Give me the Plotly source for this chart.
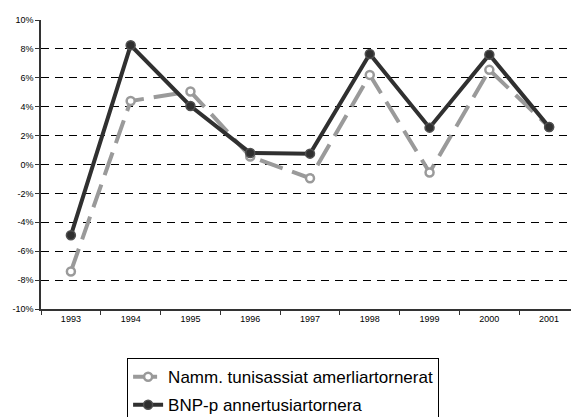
import plotly.graph_objects as go

years = ["1993", "1994", "1995", "1996", "1997", "1998", "1999", "2000", "2001"]
namm_values = [-7.4, 4.4, 5.05, 0.55, -0.95, 6.2, -0.55, 6.55, 2.6]
bnp_values = [-4.9, 8.25, 4.05, 0.8, 0.75, 7.65, 2.55, 7.6, 2.6]
y_ticks = [-10, -8, -6, -4, -2, 0, 2, 4, 6, 8, 10]
grid_ticks = [-8, -6, -4, -2, 0, 2, 4, 6, 8]

fig = go.Figure()
fig.add_trace(
    go.Scatter(
        x=years, y=namm_values, name="Namm. tunisassiat amerliartornerat",
        mode="lines+markers", legendgroup="a",
        line=dict(color="#9a9a9a", width=4, dash="24px,10px"),
        marker=dict(symbol="circle", size=8, color="white", line=dict(color="#9a9a9a", width=2.5)),
    )
)
fig.add_trace(
    go.Scatter(
        x=years, y=bnp_values, name="BNP-p annertusiartornera",
        mode="lines+markers", legendgroup="b",
        line=dict(color="#303030", width=4),
        marker=dict(symbol="circle", size=9, color="#303030", line=dict(color="#505050", width=1.5)),
    )
)
# invisible trace on the overlay axis so the dashed gridlines get drawn
fig.add_trace(
    go.Scatter(x=years, y=bnp_values, yaxis="y2", showlegend=False,
               mode="markers", marker=dict(opacity=0), hoverinfo="skip")
)

# page body has an 8px margin, so the figure is 8px smaller and shifted
fig.update_layout(
    width=571, height=409,
    margin=dict(l=33, r=0, t=12, b=108, autoexpand=False),
    paper_bgcolor="white", plot_bgcolor="white",
    font=dict(family="Liberation Sans, Arial, sans-serif", color="black"),
    xaxis=dict(
        type="category", tickson="boundaries", ticks="outside", ticklen=4,
        tickcolor="#333", showline=True, linecolor="#333", linewidth=1.5,
        showgrid=False, tickfont=dict(size=9), range=[-0.5, 8.5],
    ),
    yaxis=dict(
        range=[-10, 10], tickvals=y_ticks, ticktext=[f"{v}%" for v in y_ticks],
        ticks="outside", ticklen=4, tickcolor="#333",
        showline=True, linecolor="#333", linewidth=1.5,
        showgrid=False, zeroline=False, tickfont=dict(size=9),
    ),
    yaxis2=dict(
        range=[-10, 10], overlaying="y", tickvals=grid_ticks, showticklabels=False,
        showgrid=True, gridcolor="black", gridwidth=1, griddash="8px,6px",
        zeroline=False, showline=False,
    ),
    legend=dict(
        x=0.45, y=-0.17, xanchor="center", yanchor="top",
        bordercolor="black", borderwidth=1, bgcolor="white",
        font=dict(size=17), traceorder="grouped", tracegroupgap=3,
    ),
    showlegend=True,
)

fig.write_html("out.html")
